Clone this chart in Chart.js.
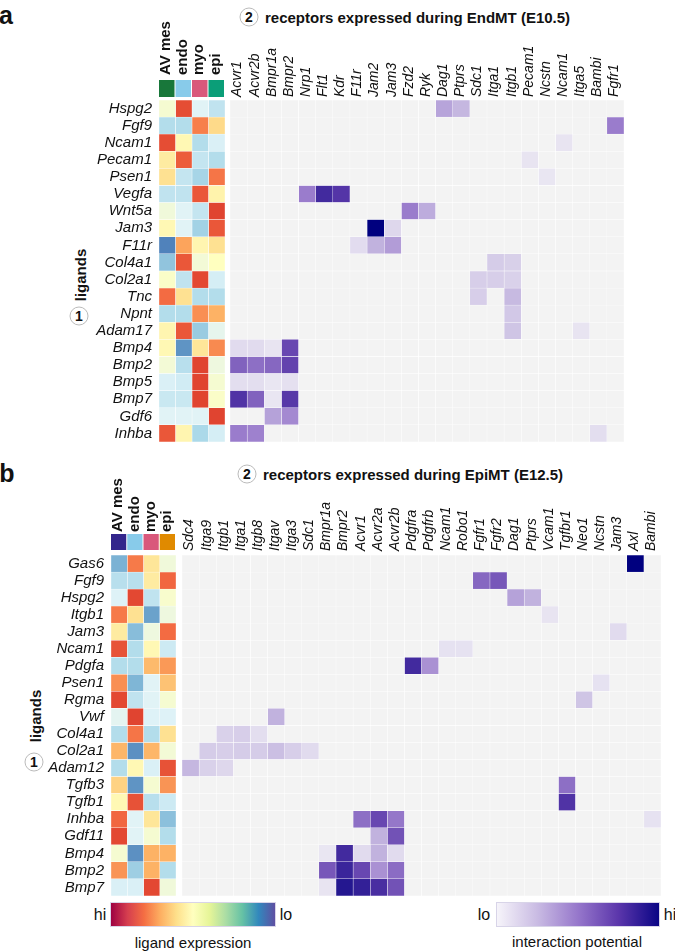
<!DOCTYPE html>
<html>
<head>
<meta charset="utf-8">
<script src="https://cdn.jsdelivr.net/npm/chart.js@4.4.1/dist/chart.umd.min.js"></script>
<style>
body { margin: 0; background: #fff; font-family: "Liberation Sans", Arial, sans-serif; color: #111; }
#fig { position: relative; width: 675px; height: 951px; overflow: hidden; }
canvas { position: absolute; }
.t { position: absolute; white-space: nowrap; line-height: 1; transform: translate(-50%, -50%); }
.lbl { position: absolute; white-space: nowrap; line-height: 1; transform: translateY(-50%); font-weight: bold; font-size: 15px; }
.circ { position: absolute; width: 17px; height: 17px; border: 1px solid #bbb; border-radius: 50%;
        transform: translate(-50%, -50%); font-weight: bold; font-size: 14px; line-height: 17px; text-align: center; }
.bar { position: absolute; height: 25px; box-sizing: border-box; border: 1px solid #d8d4e8; }
</style>
</head>
<body>
<div id="fig">
  <div class="t" style="left:6px;top:15px;font-size:25px;font-weight:bold">a</div>
  <div class="circ" style="left:249px;top:17px">2</div>
  <div class="lbl" style="left:265px;top:17px">receptors expressed during EndMT (E10.5)</div>
  <div class="t" style="left:80px;top:275px;font-size:15px;font-weight:bold;transform:translate(-50%,-50%) rotate(-90deg)">ligands</div>
  <div class="circ" style="left:79px;top:316px">1</div>

  <div class="t" style="left:7px;top:473px;font-size:25px;font-weight:bold">b</div>
  <div class="circ" style="left:247px;top:474px">2</div>
  <div class="lbl" style="left:263px;top:474px">receptors expressed during EpiMT (E12.5)</div>
  <div class="t" style="left:35px;top:716px;font-size:15px;font-weight:bold;transform:translate(-50%,-50%) rotate(-90deg)">ligands</div>
  <div class="circ" style="left:34px;top:762px">1</div>

  <canvas id="aLeft" width="225" height="442" style="left:0;top:0"></canvas>
  <canvas id="aRight" width="394" height="442" style="left:230px;top:0"></canvas>
  <canvas id="bLeft" width="176" height="441" style="left:0;top:455px"></canvas>
  <canvas id="bRight" width="479" height="441" style="left:182px;top:455px"></canvas>

  <div class="bar" style="left:110px;top:902px;width:166px;background:linear-gradient(to right,#9e0142,#d53e4f,#f46d43,#fdae61,#fee08b,#ffffbf,#e6f598,#abdda4,#66c2a5,#3288bd,#5e4fa2)"></div>
  <div class="t" style="left:100px;top:915px;font-size:16px">hi</div>
  <div class="t" style="left:286px;top:915px;font-size:16px">lo</div>
  <div class="t" style="left:193px;top:942px;font-size:15px">ligand expression</div>

  <div class="bar" style="left:496px;top:902px;width:164px;background:linear-gradient(to right,#f6f4fa,#c9bbe3,#9677cb,#5b36ab,#0a0585)"></div>
  <div class="t" style="left:484px;top:915px;font-size:16px">lo</div>
  <div class="t" style="left:670px;top:915px;font-size:16px">hi</div>
  <div class="t" style="left:577px;top:941px;font-size:15px">interaction potential</div>
</div>

<script>
const cellTypes = ['AV mes', 'endo', 'myo', 'epi'];

// panel a: EndMT (E10.5)
const ligandsA = ['Hspg2','Fgf9','Ncam1','Pecam1','Psen1','Vegfa','Wnt5a','Jam3','F11r','Col4a1',
  'Col2a1','Tnc','Npnt','Adam17','Bmp4','Bmp2','Bmp5','Bmp7','Gdf6','Inhba'];
const receptorsA = ['Acvr1','Acvr2b','Bmpr1a','Bmpr2','Nrp1','Flt1','Kdr','F11r','Jam2','Jam3','Fzd2','Ryk',
  'Dag1','Ptprs','Sdc1','Itga1','Itgb1','Pecam1','Ncstn','Ncam1','Itga5','Bambi','Fgfr1'];
// ligand expression, 0 = lo, 1 = hi (AV mes, endo, myo, epi)
const exprA = [
  [0.46, 0.94, 0.38, 0.30],
  [0.27, 0.27, 0.84, 0.64],
  [0.94, 0.53, 0.27, 0.36],
  [0.58, 0.91, 0.31, 0.27],
  [0.62, 0.31, 0.24, 0.86],
  [0.30, 0.30, 0.92, 0.55],
  [0.44, 0.38, 0.31, 0.96],
  [0.53, 0.38, 0.23, 0.92],
  [0.03, 0.77, 0.54, 0.62],
  [0.19, 0.92, 0.45, 0.50],
  [0.48, 0.30, 0.95, 0.35],
  [0.88, 0.62, 0.27, 0.27],
  [0.27, 0.27, 0.81, 0.74],
  [0.54, 0.92, 0.21, 0.40],
  [0.53, 0.07, 0.60, 0.82],
  [0.45, 0.28, 0.96, 0.43],
  [0.36, 0.34, 0.96, 0.46],
  [0.32, 0.32, 0.96, 0.48],
  [0.38, 0.38, 0.38, 0.96],
  [0.92, 0.54, 0.25, 0.35]
];
// interaction potential [ligand, receptor, value]
const pairsA = [
  ['Hspg2','Dag1',0.35],['Hspg2','Ptprs',0.28],
  ['Fgf9','Fgfr1',0.5],
  ['Ncam1','Ncam1',0.05],
  ['Pecam1','Pecam1',0.05],
  ['Psen1','Ncstn',0.04],
  ['Vegfa','Nrp1',0.5],['Vegfa','Flt1',0.82],['Vegfa','Kdr',0.77],
  ['Wnt5a','Fzd2',0.5],['Wnt5a','Ryk',0.32],
  ['Jam3','Jam2',1],['Jam3','Jam3',0.12],
  ['F11r','F11r',0.09],['F11r','Jam2',0.3],['F11r','Jam3',0.38],
  ['Col4a1','Itga1',0.18],['Col4a1','Itgb1',0.16],
  ['Col2a1','Sdc1',0.17],['Col2a1','Itga1',0.17],['Col2a1','Itgb1',0.15],
  ['Tnc','Sdc1',0.17],['Tnc','Itgb1',0.27],
  ['Npnt','Itgb1',0.2],
  ['Adam17','Itgb1',0.22],['Adam17','Itga5',0.05],
  ['Bmp4','Acvr1',0.1],['Bmp4','Acvr2b',0.1],['Bmp4','Bmpr1a',0.05],['Bmp4','Bmpr2',0.7],
  ['Bmp2','Acvr1',0.6],['Bmp2','Acvr2b',0.55],['Bmp2','Bmpr1a',0.58],['Bmp2','Bmpr2',0.72],
  ['Bmp5','Acvr1',0.08],['Bmp5','Acvr2b',0.08],['Bmp5','Bmpr1a',0.04],['Bmp5','Bmpr2',0.07],
  ['Bmp7','Acvr1',0.78],['Bmp7','Acvr2b',0.6],['Bmp7','Bmpr1a',0.04],['Bmp7','Bmpr2',0.76],
  ['Gdf6','Bmpr1a',0.36],['Gdf6','Bmpr2',0.45],
  ['Inhba','Acvr1',0.5],['Inhba','Acvr2b',0.48],['Inhba','Bambi',0.08]
];
const stripA = ['#18773a', '#88cbea', '#d9587b', '#0b9e78'];

// panel b: EpiMT (E12.5)
const ligandsB = ['Gas6','Fgf9','Hspg2','Itgb1','Jam3','Ncam1','Pdgfa','Psen1','Rgma','Vwf',
  'Col4a1','Col2a1','Adam12','Tgfb3','Tgfb1','Inhba','Gdf11','Bmp4','Bmp2','Bmp7'];
const receptorsB = ['Sdc4','Itga9','Itgb1','Itga1','Itgb8','Itgav','Itga3','Sdc1','Bmpr1a','Bmpr2','Acvr1',
  'Acvr2a','Acvr2b','Pdgfra','Pdgfrb','Ncam1','Robo1','Fgfr1','Fgfr2','Dag1','Ptprs','Vcam1','Tgfbr1',
  'Neo1','Ncstn','Jam3','Axl','Bambi'];
const exprB = [
  [0.14, 0.85, 0.60, 0.44],
  [0.28, 0.28, 0.58, 0.89],
  [0.37, 0.95, 0.30, 0.47],
  [0.85, 0.62, 0.10, 0.43],
  [0.58, 0.17, 0.43, 0.88],
  [0.93, 0.27, 0.53, 0.33],
  [0.27, 0.27, 0.72, 0.79],
  [0.81, 0.15, 0.38, 0.70],
  [0.95, 0.30, 0.38, 0.46],
  [0.39, 0.96, 0.37, 0.37],
  [0.27, 0.86, 0.27, 0.62],
  [0.73, 0.06, 0.73, 0.45],
  [0.27, 0.53, 0.36, 0.93],
  [0.66, 0.07, 0.46, 0.80],
  [0.53, 0.93, 0.28, 0.33],
  [0.89, 0.38, 0.60, 0.18],
  [0.95, 0.38, 0.46, 0.27],
  [0.46, 0.06, 0.74, 0.74],
  [0.80, 0.22, 0.74, 0.27],
  [0.36, 0.36, 0.95, 0.44]
];
const pairsB = [
  ['Gas6','Axl',1],
  ['Fgf9','Fgfr1',0.58],['Fgf9','Fgfr2',0.64],
  ['Hspg2','Dag1',0.36],['Hspg2','Ptprs',0.3],
  ['Itgb1','Vcam1',0.05],
  ['Jam3','Jam3',0.1],
  ['Ncam1','Ncam1',0.06],['Ncam1','Robo1',0.06],
  ['Pdgfa','Pdgfra',0.82],['Pdgfa','Pdgfrb',0.42],
  ['Psen1','Ncstn',0.06],
  ['Rgma','Neo1',0.22],
  ['Vwf','Itgav',0.3],
  ['Col4a1','Itgb1',0.15],['Col4a1','Itga1',0.17],['Col4a1','Itgb8',0.08],
  ['Col2a1','Itga9',0.18],['Col2a1','Itgb1',0.17],['Col2a1','Itga1',0.18],['Col2a1','Itgb8',0.18],
  ['Col2a1','Itgav',0.25],['Col2a1','Itga3',0.17],['Col2a1','Sdc1',0.1],
  ['Adam12','Sdc4',0.28],['Adam12','Itga9',0.15],['Adam12','Itgb1',0.12],
  ['Tgfb3','Tgfbr1',0.55],
  ['Tgfb1','Tgfbr1',0.78],
  ['Inhba','Acvr1',0.55],['Inhba','Acvr2a',0.7],['Inhba','Acvr2b',0.52],['Inhba','Bambi',0.06],
  ['Gdf11','Acvr2a',0.3],['Gdf11','Acvr2b',0.66],
  ['Bmp4','Bmpr1a',0.04],['Bmp4','Bmpr2',0.82],['Bmp4','Acvr1',0.1],['Bmp4','Acvr2a',0.3],['Bmp4','Acvr2b',0.1],
  ['Bmp2','Bmpr1a',0.64],['Bmp2','Bmpr2',0.84],['Bmp2','Acvr1',0.7],['Bmp2','Acvr2a',0.42],['Bmp2','Acvr2b',0.56],
  ['Bmp7','Bmpr1a',0.05],['Bmp7','Bmpr2',0.9],['Bmp7','Acvr1',0.86],['Bmp7','Acvr2a',0.8],['Bmp7','Acvr2b',0.66]
];
const stripB = ['#33268c', '#88cbea', '#d9587b', '#e08a00'];

const exprStops = ['#4575b4','#74add1','#abd9e9','#e0f3f8','#ffffbf','#fee090','#fdae61','#f46d43','#d73027'];
const potStops = ['#efedf5','#cbbfe3','#9a7ccc','#5b3aaa','#00007f'];
const emptyCell = '#f3f3f3';
const FONT = '"Liberation Sans", Arial, sans-serif';

function hex(c) { return [1, 3, 5].map(i => parseInt(c.slice(i, i + 2), 16)); }
function ramp(stops, v) {
  v = Math.max(0, Math.min(1, v));
  const p = v * (stops.length - 1), i = Math.min(Math.floor(p), stops.length - 2), f = p - i;
  const a = hex(stops[i]), b = hex(stops[i + 1]);
  return 'rgb(' + a.map((x, k) => Math.round(x + (b[k] - x) * f)).join(',') + ')';
}
function potMatrix(ligs, recs, pairs) {
  const m = ligs.map(() => recs.map(() => 0));
  pairs.forEach(([l, r, v]) => { m[ligs.indexOf(l)][recs.indexOf(r)] = v; });
  return m;
}

// coloured cell-type strip above the expression columns
function stripPlugin(colors, gap, h) {
  return {
    id: 'strip',
    afterDraw(chart) {
      const { ctx, chartArea, scales: { x } } = chart;
      colors.forEach((c, j) => {
        const a = x.getPixelForValue(j), b = x.getPixelForValue(j + 1);
        ctx.fillStyle = c;
        ctx.fillRect(a, chartArea.top - gap - h, b - a - 1, h);
      });
    }
  };
}

function heatmap(id, rows, cols, colorOf, o) {
  const datasets = cols.map((c, j) => ({
    label: c,
    data: rows.map(() => [j, j + 1]),
    backgroundColor: rows.map((r, i) => colorOf(i, j)),
    borderColor: '#ffffff',
    borderWidth: 0.5,
    borderSkipped: false,
    barPercentage: 1,
    categoryPercentage: 1,
    grouped: false
  }));
  return new Chart(document.getElementById(id), {
    type: 'bar',
    data: { labels: rows, datasets },
    options: {
      indexAxis: 'y',
      responsive: false,
      animation: false,
      events: [],
      layout: { padding: 0 },
      plugins: { legend: { display: false }, tooltip: { enabled: false } },
      scales: {
        x: {
          type: 'linear', position: 'top', min: 0, max: cols.length,
          grid: { display: false, drawTicks: false }, border: { display: false },
          afterBuildTicks: s => { s.ticks = cols.map((c, j) => ({ value: j + 0.5 })); },
          afterFit: s => { s.height = o.top; s.paddingLeft = 0; s.paddingRight = 0; },
          ticks: {
            autoSkip: false, minRotation: 90, maxRotation: 90, padding: o.xPad, color: '#111',
            font: o.xFont, callback: v => cols[Math.floor(v)]
          }
        },
        y: {
          display: o.left > 0,
          grid: { display: false, drawTicks: false }, border: { display: false },
          afterFit: s => { s.width = o.left; s.paddingTop = 0; s.paddingBottom = 0; },
          ticks: { autoSkip: false, padding: 7, color: '#111', font: { family: FONT, size: 15, style: 'italic' } }
        }
      }
    },
    plugins: o.strip ? [o.strip] : []
  });
}

// lineHeight kept tiny so rotated top labels sit centred on their column
const boldFont = { family: FONT, size: 15, weight: 'bold', lineHeight: '1px' };
const italFont = { family: FONT, size: 14, style: 'italic', lineHeight: '1px' };

const potA = potMatrix(ligandsA, receptorsA, pairsA);
const potB = potMatrix(ligandsB, receptorsB, pairsB);

heatmap('aLeft', ligandsA, cellTypes, (i, j) => ramp(exprStops, exprA[i][j]),
  { top: 100, left: 159, xPad: 25, xFont: boldFont, strip: stripPlugin(stripA, 3, 17) });
heatmap('aRight', ligandsA, receptorsA, (i, j) => potA[i][j] > 0 ? ramp(potStops, potA[i][j]) : emptyCell,
  { top: 100, left: 0, xPad: 3, xFont: italFont });
heatmap('bLeft', ligandsB, cellTypes, (i, j) => ramp(exprStops, exprB[i][j]),
  { top: 100, left: 111, xPad: 23, xFont: boldFont, strip: stripPlugin(stripB, 5, 16) });
heatmap('bRight', ligandsB, receptorsB, (i, j) => potB[i][j] > 0 ? ramp(potStops, potB[i][j]) : emptyCell,
  { top: 100, left: 0, xPad: 4, xFont: italFont });
</script>
</body>
</html>
